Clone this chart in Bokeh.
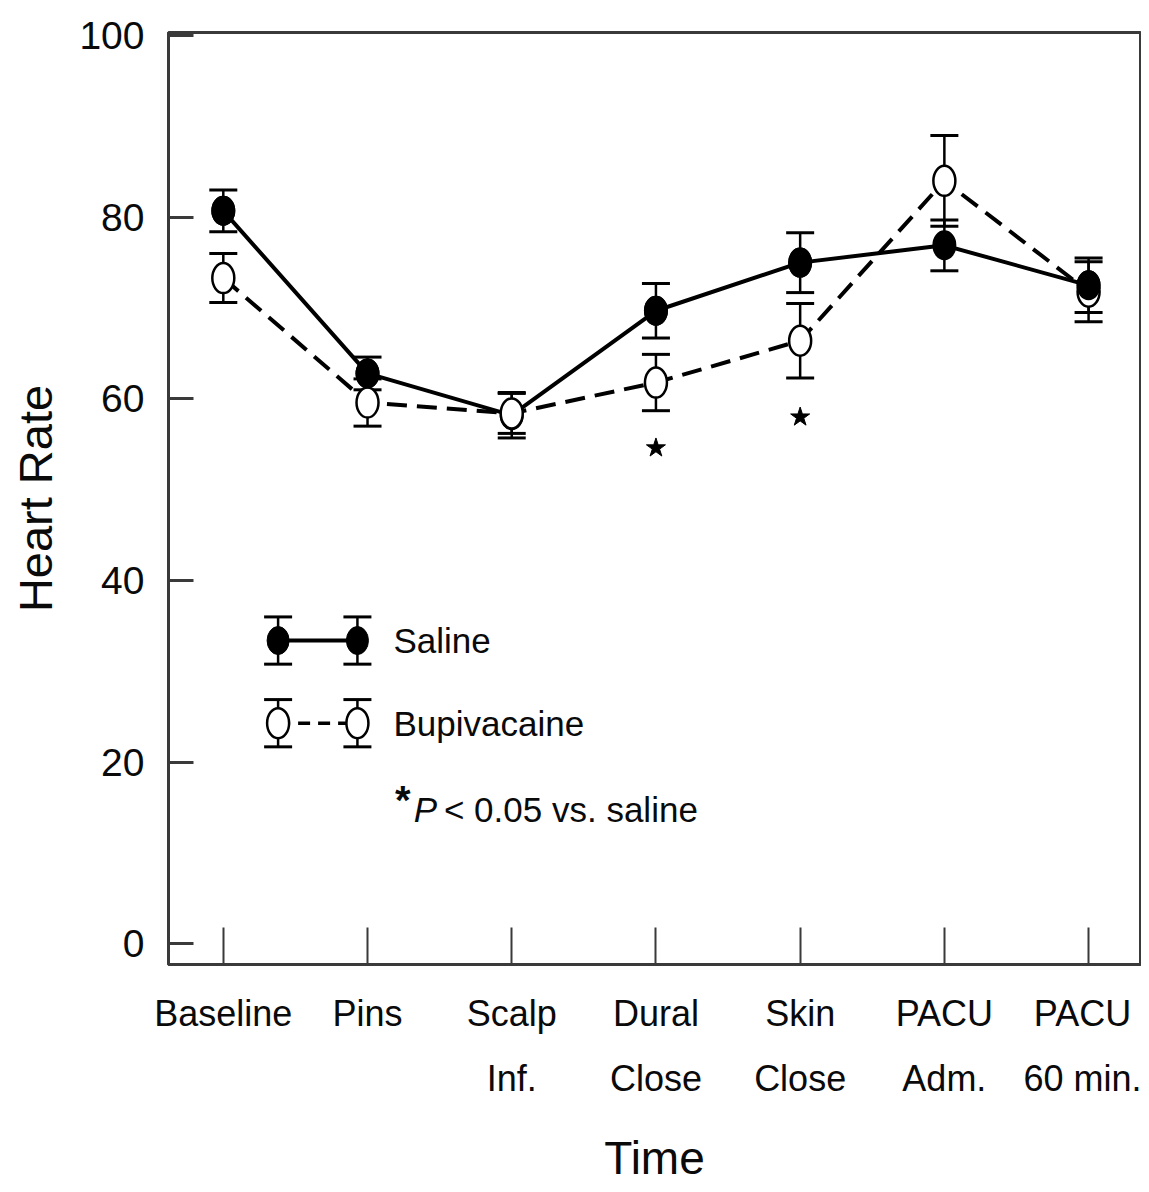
import numpy as np
from bokeh.plotting import figure
from bokeh.models import Range1d, FixedTicker, Whisker, TeeHead, ColumnDataSource, Label
from bokeh.embed import file_html
from bokeh.resources import INLINE

# ---------------- data ----------------
time_labels = ["Baseline", "Pins", "Scalp\nInf.", "Dural\nClose", "Skin\nClose", "PACU\nAdm.", "PACU\n60 min."]
saline_mean = [80.7, 62.8, 58.2, 69.7, 75.0, 76.9, 72.5]
saline_err = [2.3, 1.8, 2.5, 3.0, 3.3, 2.8, 3.0]
bupi_mean = [73.3, 59.6, 58.4, 61.8, 66.4, 84.0, 71.8]
bupi_err = [2.7, 2.6, 2.2, 3.1, 4.1, 5.0, 3.3]
sig_index = [3, 4]            # Dural Close, Skin Close
sig_y = [54.6, 58.0]          # position of the * markers
y_ticks = [0, 20, 40, 60, 80, 100]

FONT = "Liberation Sans"
INK = "#0a0a0a"
FRAME = "#3a3a3a"

x = np.arange(len(time_labels))
s = np.array(saline_mean)
b = np.array(bupi_mean)
se = np.array(saline_err)
be = np.array(bupi_err)

src = ColumnDataSource(dict(x=x, s=s, s_lo=s - se, s_hi=s + se, b=b, b_lo=b - be, b_hi=b + be))

p = figure(frame_width=972, frame_height=932,
           x_range=Range1d(-0.38, 6.36), y_range=Range1d(-2.26, 100.33),
           output_backend="svg", toolbar_location=None,
           min_border_left=168, min_border_top=32, min_border_right=1, min_border_bottom=226)
p.xgrid.visible = False
p.ygrid.visible = False
p.outline_line_color = FRAME
p.outline_line_width = 3
p.background_fill_color = "white"
p.border_fill_color = "white"

# axes
p.xaxis.ticker = FixedTicker(ticks=[int(i) for i in x])
p.xaxis.major_label_overrides = {int(i): lab for i, lab in zip(x, time_labels)}
p.xaxis.major_tick_in = 37
p.xaxis.major_tick_out = 0
p.xaxis.major_tick_line_width = 2
p.xaxis.major_tick_line_color = FRAME
p.xaxis.axis_line_width = 3
p.xaxis.axis_line_color = FRAME
p.xaxis.major_label_text_font = FONT
p.xaxis.major_label_text_font_size = "36px"
p.xaxis.major_label_text_line_height = 1.6
p.xaxis.major_label_text_color = INK
p.xaxis.major_label_standoff = 28
p.xaxis.axis_label = "Time"
p.xaxis.axis_label_text_font = FONT
p.xaxis.axis_label_text_font_size = "46px"
p.xaxis.axis_label_text_font_style = "normal"
p.xaxis.axis_label_text_color = INK
p.xaxis.axis_label_standoff = 30

p.yaxis.ticker = FixedTicker(ticks=y_ticks)
p.yaxis.major_tick_in = 25
p.yaxis.major_tick_out = 0
p.yaxis.minor_tick_in = 0
p.yaxis.minor_tick_out = 0
p.yaxis.major_tick_line_width = 3
p.yaxis.major_tick_line_color = FRAME
p.yaxis.axis_line_width = 3
p.yaxis.axis_line_color = FRAME
p.yaxis.major_label_text_font = FONT
p.yaxis.major_label_text_font_size = "39px"
p.yaxis.major_label_text_color = INK
p.yaxis.major_label_standoff = 24
p.yaxis.axis_label = "Heart Rate"
p.yaxis.axis_label_text_font = FONT
p.yaxis.axis_label_text_font_size = "47px"
p.yaxis.axis_label_text_font_style = "normal"
p.yaxis.axis_label_text_color = INK
p.yaxis.axis_label_standoff = 14

# error bars
for lo, hi in (("s_lo", "s_hi"), ("b_lo", "b_hi")):
    p.add_layout(Whisker(source=src, base="x", lower=lo, upper=hi,
                         line_width=2.5, line_color="black",
                         upper_head=TeeHead(size=28, line_width=3, line_color="black"),
                         lower_head=TeeHead(size=28, line_width=3, line_color="black")))

# lines
p.line("x", "s", source=src, line_width=4, line_color="black")
p.line("x", "b", source=src, line_width=4, line_color="black", line_dash="20 10")

# markers
p.ellipse("x", "s", source=src, width=22, height=28, width_units="screen", height_units="screen",
          fill_color="black", line_color="black", line_width=2)
p.ellipse("x", "b", source=src, width=22, height=30, width_units="screen", height_units="screen",
          fill_color="white", line_color="black", line_width=2.5)
top = s > b
p.ellipse(x[top], s[top], width=22, height=28, width_units="screen", height_units="screen",
          fill_color="black", line_color="black", line_width=2)

# significance stars
p.scatter(x[sig_index], sig_y, marker="star", size=20, fill_color="black", line_color="black")

# ---------------- legend (drawn by hand) ----------------
leg_x = [0.38, 0.93]
leg_rows = {"Saline": 33.4, "Bupivacaine": 24.3}
leg_err = 2.6
leg_src = ColumnDataSource(dict(x=leg_x * 2,
                                y=[leg_rows["Saline"]] * 2 + [leg_rows["Bupivacaine"]] * 2))
leg_src.data["lo"] = [v - leg_err for v in leg_src.data["y"]]
leg_src.data["hi"] = [v + leg_err for v in leg_src.data["y"]]
p.add_layout(Whisker(source=leg_src, base="x", lower="lo", upper="hi",
                     line_width=2.5, line_color="black",
                     upper_head=TeeHead(size=28, line_width=3, line_color="black"),
                     lower_head=TeeHead(size=28, line_width=3, line_color="black")))
p.line(leg_x, [leg_rows["Saline"]] * 2, line_width=4, line_color="black")
p.line(leg_x, [leg_rows["Bupivacaine"]] * 2, line_width=3.5, line_color="black", line_dash="12 8")
p.ellipse(leg_x, [leg_rows["Saline"]] * 2, width=22, height=28, width_units="screen",
          height_units="screen", fill_color="black", line_color="black")
p.ellipse(leg_x, [leg_rows["Bupivacaine"]] * 2, width=22, height=30, width_units="screen",
          height_units="screen", fill_color="white", line_color="black", line_width=2.5)

for name, yy in leg_rows.items():
    p.add_layout(Label(x=1.18, y=yy, text=name, text_baseline="middle", text_align="left",
                       text_font=FONT, text_font_size="35px", text_color=INK))
p.add_layout(Label(x=1.19, y=15.9, text="*", text_baseline="middle", text_align="left",
                   text_font=FONT, text_font_size="40px", text_font_style="bold", text_color=INK))
p.add_layout(Label(x=1.32, y=14.8, text="P", text_baseline="middle", text_align="left",
                   text_font=FONT, text_font_size="35px", text_font_style="italic", text_color=INK))
p.add_layout(Label(x=1.53, y=14.8, text="< 0.05 vs. saline", text_baseline="middle", text_align="left",
                   text_font=FONT, text_font_size="35px", text_color=INK))

open("out.html", "w").write(file_html(p, INLINE))
